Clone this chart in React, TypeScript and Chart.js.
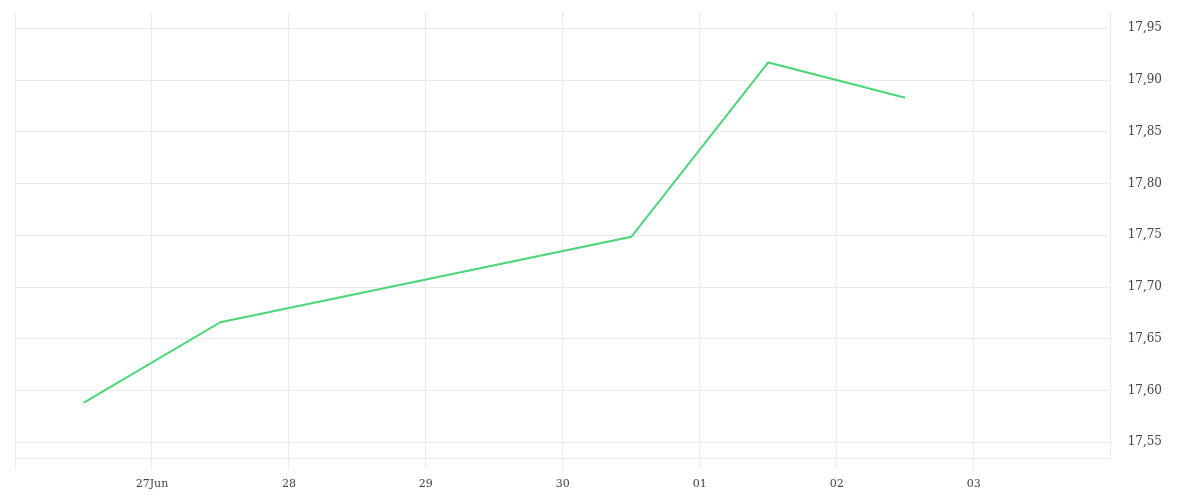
import React, { useEffect, useRef } from "react";
import { Chart, registerables } from "chart.js";

Chart.register(...registerables);

// x positions in days since 26 Jun (0 = 26 Jun)
const dayPositions = [0.5, 1.5, 4.5, 5.5, 6.5];
const rates = [17.588, 17.666, 17.7485, 17.917, 17.883];
const xTickValues = [0, 1, 2, 3, 4, 5, 6, 7];
const xTickLabels = ["", "27Jun", "28", "29", "30", "01", "02", "03"];
const yTickValues = [17.55, 17.6, 17.65, 17.7, 17.75, 17.8, 17.85, 17.9, 17.95];

const FONT = "'DejaVu Serif', serif";

export default function App() {
  const ref = useRef<HTMLCanvasElement | null>(null);
  useEffect(() => {
    if (!ref.current) return;
    const chart = new Chart(ref.current, {
      type: "line",
      data: {
        datasets: [
          {
            data: dayPositions.map((x, i) => ({ x, y: rates[i] })),
            borderColor: "#4cd67a",
            borderWidth: 2,
            pointRadius: 0,
            tension: 0,
            fill: false,
          },
        ],
      },
      options: {
        animation: false,
        responsive: false,
        layout: { padding: { left: 7, top: 4, right: 13, bottom: -8 } },
        plugins: { legend: { display: false }, tooltip: { enabled: false } },
        scales: {
          x: {
            type: "linear",
            min: 0,
            max: 8,
            afterBuildTicks: (axis: any) => {
              axis.ticks = xTickValues.map((v) => ({ value: v }));
            },
            afterFit: (axis: any) => {
              axis.paddingLeft = 0;
              axis.paddingRight = 0;
            },
            grid: { color: "#ebebeb", tickLength: 10, drawOnChartArea: true },
            border: { display: true, color: "#ebebeb" },
            ticks: {
              padding: 9,
              color: "#444",
              font: { family: FONT, size: 11 },
              maxRotation: 0,
              autoSkip: false,
              callback: (v: any) => {
                const idx = xTickValues.indexOf(Number(v));
                return idx >= 0 ? xTickLabels[idx] : "";
              },
            },
          },
          y: {
            position: "right",
            min: 17.534,
            max: 17.9658,
            afterBuildTicks: (axis: any) => {
              axis.ticks = yTickValues.map((v) => ({ value: v }));
            },
            afterFit: (axis: any) => {
              axis.paddingTop = 0;
              axis.paddingBottom = 0;
            },
            grid: { color: "#ebebeb", drawTicks: false },
            border: { display: true, color: "#ebebeb" },
            ticks: {
              padding: 17,
              color: "#444",
              font: { family: FONT, size: 12 },
              callback: (v: any) => Number(v).toFixed(2).replace(".", ","),
            },
          },
        },
      },
    });
    return () => chart.destroy();
  }, []);
  return (
    <div>
      <canvas ref={ref} width={1184} height={484} style={{ display: "block" }} />
    </div>
  );
}
